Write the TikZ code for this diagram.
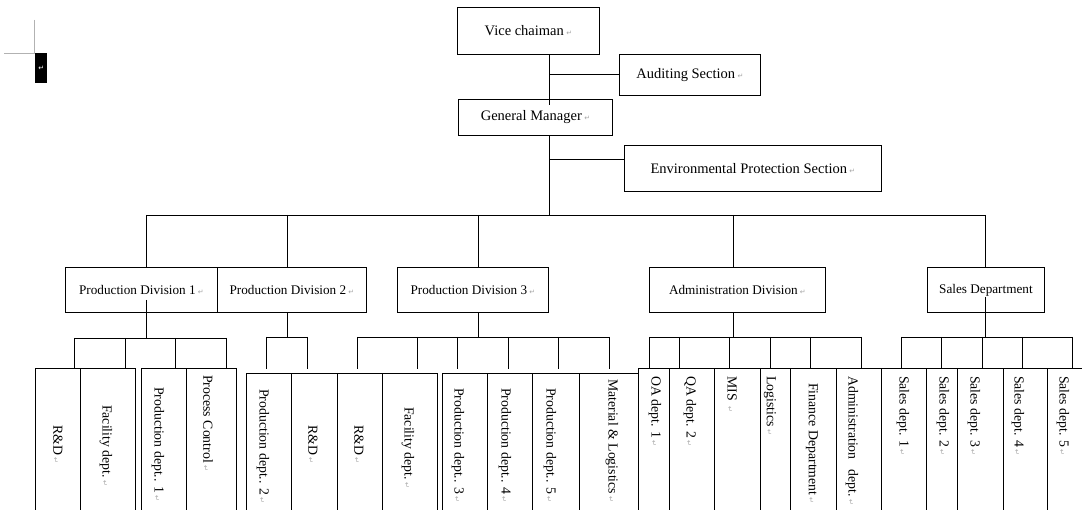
\documentclass[tikz,border=0pt]{standalone}
\usepackage{fontspec}
\setmainfont{Liberation Serif}
\newfontfamily\dejavu{DejaVu Sans}
\newcommand{\pmk}{\,\textcolor{black!35}{\dejavu\fontsize{7}{7}\selectfont ↵}}
\newcommand{\pmkw}{\textcolor{white}{\dejavu\fontsize{7}{7}\selectfont ↵}}
\tikzset{
  ln/.style={line width=0.9pt, black},
  topbox/.style={draw, line width=0.9pt, anchor=north west, inner sep=0pt, font=\fontsize{14.5}{16}\selectfont},
  divbox/.style={draw, line width=0.9pt, anchor=north west, inner sep=0pt, font=\fontsize{13.2}{15}\selectfont},
  stripbox/.style={draw, line width=0.9pt, anchor=north west, inner sep=0pt},
  vtext/.style={rotate=-90, anchor=west, inner sep=0pt, font=\fontsize{13.8}{15}\selectfont},
}
\newcommand{\stripat}[4]{%
  \pgfmathsetmacro\sw{#3-#2}%
  \pgfmathsetmacro\sh{520-#4}%
  \node[stripbox, minimum width=\sw pt, minimum height=\sh pt] (#1) at (#2,#4) {};}
\begin{document}
\begin{tikzpicture}[x=1pt,y=-1pt]
\useasboundingbox (0,0) rectangle (1082,510);
\fill[white] (0,0) rectangle (1082,510);
\clip (0,0) rectangle (1082,510);

% crop mark and paragraph mark at top left
\coordinate (cm) at (34,53);
\draw[black!30, line width=0.8pt] (34,20) -- (cm) -- (4,53);
\node[fill=black, anchor=north west, minimum width=12pt, minimum height=30pt, inner sep=0pt] (pm) at (35,53) {\pmkw};

% top boxes
\node[topbox, minimum width=142pt, minimum height=47pt] (vice) at (457,7) {Vice chaiman\pmk};
\node[topbox, minimum width=141pt, minimum height=41pt] (aud) at (619,54) {Auditing Section\pmk};
\node[topbox, minimum width=154pt, minimum height=36pt] (gm) at (458,99) {General Manager\pmk};
\node[topbox, minimum width=257pt, minimum height=46pt] (env) at (624,145) {Environmental Protection Section\pmk};

% divisions
\node[divbox, minimum width=152pt, minimum height=45pt] (pd1) at (65,267) {Production Division 1\pmk};
\node[divbox, minimum width=149pt, minimum height=45pt] (pd2) at (217,267) {Production Division 2\pmk};
\node[divbox, minimum width=151pt, minimum height=45pt] (pd3) at (397,267) {Production Division 3\pmk};
\node[divbox, minimum width=176pt, minimum height=45pt] (adm) at (649,267) {Administration Division\pmk};
\node[divbox, minimum width=117pt, minimum height=45pt] (sal) at (927,267) {Sales Department};

% trunk
\coordinate (trunk) at (549,0);
\coordinate (gmin) at (549,105);
\coordinate (busR) at (985,215);
\coordinate (busL) at (146,215);
\draw[ln] (vice.south -| trunk) -- (gmin);
\draw[ln] (trunk |- aud.west) -- (aud.west);
\draw[ln] (gm.south -| trunk) -- (trunk |- busR);
\draw[ln] (549,159) -- (env.west |- 0,159);
\draw[ln] (busL) -- (busR);
\draw[ln] (busL) -- (busL |- pd1.north);
\draw[ln] (287,215) -- (287,267);
\draw[ln] (478,215) -- (478,267);
\draw[ln] (733,215) -- (733,267);
\draw[ln] (busR) -- (busR |- sal.north);

% strips: PD1
\stripat{s1}{35}{80}{368}
\stripat{s2}{80}{135}{368}
\stripat{s3}{141}{186}{368}
\stripat{s4}{186}{236}{368}
% PD2 + PD3a
\stripat{s5}{246}{291}{373}
\stripat{s6}{291}{337}{373}
\stripat{s7}{337}{382}{373}
\stripat{s8}{382}{437}{373}
% PD3b
\stripat{s9}{442}{487}{373}
\stripat{s10}{487}{532}{373}
\stripat{s11}{532}{579}{373}
\stripat{s12}{579}{638}{373}
% Admin
\stripat{s13}{638}{669}{368}
\stripat{s14}{669}{714}{368}
\stripat{s15}{714}{760}{368}
\stripat{s16}{760}{790}{368}
\stripat{s17}{790}{836}{368}
\stripat{s18}{836}{881}{368}
% Sales
\stripat{s19}{881}{926}{368}
\stripat{s20}{926}{957}{368}
\stripat{s21}{957}{1003}{368}
\stripat{s22}{1003}{1047}{368}
\stripat{s23}{1047}{1095}{368}

% sub-trees
\draw[ln] (146,300) -- (146,338);
\draw[ln] (74,338) -- (226,338);
\foreach \x in {74,125,175,226} \draw[ln] (\x,338) -- (\x,368);

\draw[ln] (pd2.south -| 287,0) -- (287,337);
\draw[ln] (266,337) -- (307,337);
\foreach \x in {266,307} \draw[ln] (\x,337) -- (\x,369);

\draw[ln] (pd3.south -| 478,0) -- (478,337);
\draw[ln] (357,337) -- (609,337);
\foreach \x in {357,417,457,508,558,609} \draw[ln] (\x,337) -- (\x,369);

\draw[ln] (adm.south -| 733,0) -- (733,337);
\draw[ln] (649,337) -- (861,337);
\foreach \x in {649,679,729,770,810,861} \draw[ln] (\x,337) -- (\x,368);

\draw[ln] (985,297) -- (985,337);
\draw[ln] (901,337) -- (1072,337);
\foreach \x in {901,941,982,1022,1072} \draw[ln] (\x,337) -- (\x,368);

% strip texts
\node[vtext] (t1) at (58,425) {R\&D\pmk};
\node[vtext] (t2) at (106,405) {Facility dept.\pmk};
\node[vtext] (t3) at (158,387) {Production dept.. 1\pmk};
\node[vtext] (t4) at (208,375) {Process Control\pmk};
\node[vtext] (t5) at (263,389) {Production dept.. 2\pmk};
\node[vtext] (t6) at (313,425) {R\&D\pmk};
\node[vtext] (t7) at (359,425) {R\&D\pmk};
\node[vtext] (t8) at (408,407) {Facility dept.\pmk};
\node[vtext] (t9) at (458,388) {Production dept.. 3\pmk};
\node[vtext] (t10) at (505,388) {Production dept.. 4\pmk};
\node[vtext] (t11) at (550,388) {Production dept.. 5\pmk};
\node[vtext] (t12) at (612,379) {Material \& Logistics\pmk};
\node[vtext] (t13) at (655,376) {OA dept. 1\pmk};
\node[vtext] (t14) at (690,376) {QA dept. 2\pmk};
\node[vtext] (t15) at (732,376) {MIS \pmk};
\node[vtext] (t16) at (770,376) {Logistics\pmk};
\node[vtext] (t17) at (812,383) {Finance Department\pmk};
\node[vtext] (t18) at (852,376) {Administration\hspace{10pt}dept.\pmk};
\node[vtext] (t19) at (903,376) {Sales dept. 1\pmk};
\node[vtext] (t20) at (943,376) {Sales dept. 2\pmk};
\node[vtext] (t21) at (974,376) {Sales dept. 3\pmk};
\node[vtext] (t22) at (1018,376) {Sales dept. 4\pmk};
\node[vtext] (t23) at (1063,376) {Sales dept. 5\pmk};
\end{tikzpicture}
\end{document}
